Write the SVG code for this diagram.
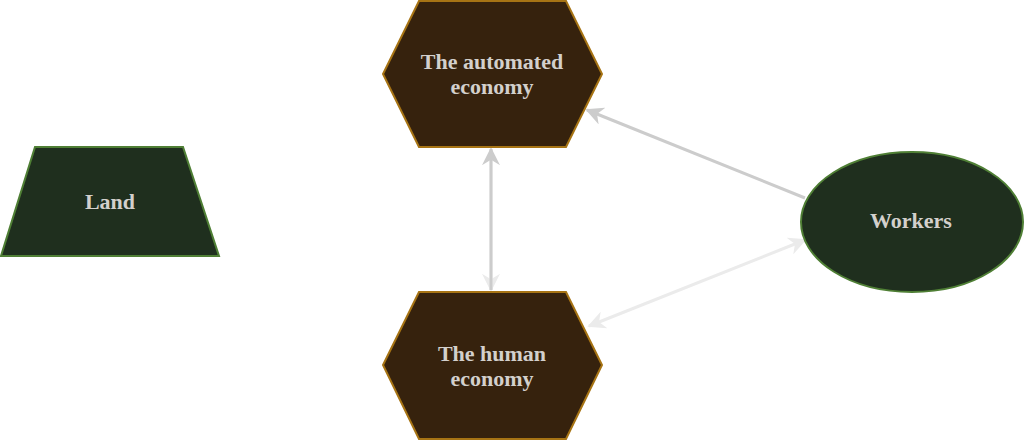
<svg xmlns="http://www.w3.org/2000/svg" width="1024" height="441" viewBox="0 0 1024 441">
<style>
.hex{fill:#36220d;stroke:#a77414;stroke-width:2}
.grn{fill:#1f2f1e;stroke:#4f7f35;stroke-width:2}
.lbl{font-family:"Liberation Serif",serif;font-weight:bold;font-size:22px;fill:#d3d0cc;text-anchor:middle}
.e1{stroke:#cccccc;stroke-width:3;fill:none}
.e2{stroke:#ebebeb;stroke-width:3;fill:none}
</style>
<defs>
<marker id="a1" viewBox="0 0 10 10" refX="9" refY="5" markerWidth="6" markerHeight="6" orient="auto-start-reverse" markerUnits="strokeWidth">
<path d="M0,0 L10,5 L0,10 L3,5 Z" fill="#cccccc"/>
</marker>
<marker id="a2" viewBox="0 0 10 10" refX="9" refY="5" markerWidth="6" markerHeight="6" orient="auto-start-reverse" markerUnits="strokeWidth">
<path d="M0,0 L10,5 L0,10 L3,5 Z" fill="#ebebeb"/>
</marker>
</defs>
<g id="connectors">
<line class="e2" x1="491" y1="150" x2="491" y2="290" marker-end="url(#a2)"/>
<line class="e1" x1="491" y1="290" x2="491" y2="149" marker-end="url(#a1)"/>
<line class="e1" x1="805" y1="198" x2="587" y2="110" marker-end="url(#a1)"/>
<line class="e2" x1="589" y1="326" x2="805" y2="240" marker-start="url(#a2)" marker-end="url(#a2)"/>
</g>
<g id="automated">
<polygon class="hex" points="419,1 566,1 602,74 566,147 419,147 383,74"/>
<text class="lbl" x="492" y="69">The automated</text>
<text class="lbl" x="492" y="94">economy</text>
</g>
<g id="human">
<polygon class="hex" points="419,292 566,292 602,365 566,439 419,439 383,365"/>
<text class="lbl" x="492" y="361">The human</text>
<text class="lbl" x="492" y="386">economy</text>
</g>
<g id="land">
<polygon class="grn" points="35,147 183,147 219,256 1,256"/>
<text class="lbl" x="110" y="209">Land</text>
</g>
<g id="workers">
<ellipse class="grn" cx="912" cy="222" rx="111" ry="70"/>
<text class="lbl" x="911" y="228">Workers</text>
</g>
</svg>
